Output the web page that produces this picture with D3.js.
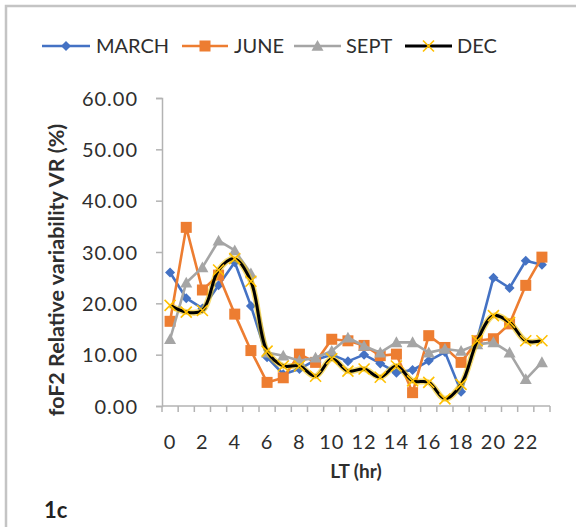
<!DOCTYPE html>
<html>
<head>
<meta charset="utf-8">
<script src="https://cdn.jsdelivr.net/npm/d3@7"></script>
<style>
  html, body { margin: 0; padding: 0; background: #fff; }
  svg { display: block; }
  text { font-family: Lato, "Open Sans", sans-serif; }
</style>
</head>
<body>
<svg id="chart" width="576" height="527"></svg>
<script>
// Local time (hours) and monthly foF2 relative variability (%)
const hours = d3.range(0, 24);
const xTickLabels = [0, 2, 4, 6, 8, 10, 12, 14, 16, 18, 20, 22];
const yTicks = [0, 10, 20, 30, 40, 50, 60];

const march = [26, 21, 19, 23.5, 28, 19.5, 9.5, 6.2, 7.2, 9, 10, 8.7, 10, 8.3, 6.5, 7, 8.8, 10.5, 2.8, 13, 25, 23, 28.3, 27.5];
const june  = [16.5, 34.8, 22.6, 25.5, 17.9, 10.8, 4.6, 5.5, 10.1, 8.5, 13, 12.7, 11.8, 9.8, 10.1, 2.6, 13.7, 11.4, 8.5, 12.7, 13.1, 16, 23.5, 29];
const sept  = [13, 24, 27, 32.2, 30.3, 25.8, 10.4, 9.8, 8.8, 9.4, 10.7, 13.3, 11.7, 10.4, 12.4, 12.4, 10.4, 11.1, 10.7, 12, 12.4, 10.4, 5.2, 8.5];
const dec   = [19.6, 18.3, 18.6, 26.5, 28.7, 24.3, 10.7, 7.8, 7.8, 5.8, 9.2, 6.8, 7.2, 5.6, 7.8, 4.9, 4.6, 1.4, 4.2, 12.7, 17.6, 16.3, 12.7, 12.7];

const seriesNames = ["MARCH", "JUNE", "SEPT", "DEC"];
const seriesColors = ["#4472C4", "#ED7D31", "#A5A5A5", "#000000"];

const series = [
  { name: seriesNames[0], values: march, color: seriesColors[0], marker: "diamond", smooth: false },
  { name: seriesNames[1], values: june,  color: seriesColors[1], marker: "square",  smooth: false },
  { name: seriesNames[2], values: sept,  color: seriesColors[2], marker: "triangle", smooth: false },
  { name: seriesNames[3], values: dec,   color: seriesColors[3], marker: "cross",   smooth: true }
];

const svg = d3.select("#chart");
const axisColor = "#b3b3b3";
const textColor = "#2e2e2e";

// Outer frame
svg.append("path")
  .attr("d", "M6,540 L6,6 L590,6")
  .attr("fill", "none")
  .attr("stroke", "#c4c4c4")
  .attr("stroke-width", 2.5);

const plot = { left: 162, right: 550, top: 98, bottom: 406 };

const x = d3.scaleBand().domain(hours).range([plot.left, plot.right]).padding(0);
const y = d3.scaleLinear().domain([0, 60]).range([plot.bottom, plot.top]);
const cx = h => x(h) + x.bandwidth() / 2;

// Y axis
const yAxis = d3.axisLeft(y).tickValues(yTicks).tickSize(6).tickFormat(d3.format(".2f"));
const gy = svg.append("g").attr("transform", `translate(${plot.left},0)`).call(yAxis);
gy.select(".domain").attr("stroke", axisColor).attr("stroke-width", 1.5);
gy.selectAll(".tick line").attr("stroke", axisColor).attr("stroke-width", 1.5);
gy.selectAll(".tick text")
  .attr("x", -24)
  .attr("dy", "0.36em")
  .attr("fill", textColor)
  .style("font-size", "20px")
  .style("letter-spacing", "1px");

// X axis: tick marks between hour categories, labels every 2 hours
const tickPositions = d3.range(0, 25).map(i => plot.left + i * x.bandwidth());
const gx = svg.append("g");
gx.append("line")
  .attr("x1", plot.left).attr("x2", plot.right)
  .attr("y1", plot.bottom).attr("y2", plot.bottom)
  .attr("stroke", axisColor).attr("stroke-width", 1.5);
gx.selectAll("line.tk").data(tickPositions).join("line")
  .attr("class", "tk")
  .attr("x1", d => d).attr("x2", d => d)
  .attr("y1", plot.bottom).attr("y2", plot.bottom + 6)
  .attr("stroke", axisColor).attr("stroke-width", 1.5);
gx.selectAll("text").data(xTickLabels).join("text")
  .attr("x", d => cx(d))
  .attr("y", 449)
  .attr("text-anchor", "middle")
  .attr("fill", textColor)
  .style("font-size", "20px")
  .style("letter-spacing", "1px")
  .text(d => d);

// Axis titles
svg.append("text")
  .attr("transform", "translate(64,270) rotate(-90)")
  .attr("text-anchor", "middle")
  .attr("fill", textColor)
  .style("font-size", "21.5px")
  .style("font-weight", "700")
  .text("foF2 Relative variability  VR (%)");

svg.append("text")
  .attr("x", 356).attr("y", 478)
  .attr("text-anchor", "middle")
  .attr("fill", textColor)
  .style("font-size", "19px")
  .style("font-weight", "700")
  .text("LT (hr)");

svg.append("text")
  .attr("x", 44).attr("y", 518)
  .attr("fill", "#222")
  .style("font-size", "22px")
  .style("font-weight", "700")
  .text("1c");

// Marker shapes
function drawMarker(g, type, color, px, py, scale) {
  const s = scale || 1;
  if (type === "diamond") {
    const r = 5 * s;
    g.append("path")
      .attr("d", `M${px},${py - r} L${px + r},${py} L${px},${py + r} L${px - r},${py} Z`)
      .attr("fill", color);
  } else if (type === "square") {
    const r = 5.5 * s;
    g.append("rect")
      .attr("x", px - r).attr("y", py - r)
      .attr("width", 2 * r).attr("height", 2 * r)
      .attr("fill", color);
  } else if (type === "triangle") {
    const r = 6 * s;
    g.append("path")
      .attr("d", `M${px},${py - r} L${px + r},${py + r * 0.8} L${px - r},${py + r * 0.8} Z`)
      .attr("fill", color);
  } else if (type === "cross") {
    const r = 5.5 * s;
    g.append("path")
      .attr("d", `M${px - r},${py - r} L${px + r},${py + r} M${px - r},${py + r} L${px + r},${py - r}`)
      .attr("stroke", "#FFC000")
      .attr("stroke-width", 1.6)
      .attr("fill", "none");
  }
}

// Series lines and markers
series.forEach(s => {
  const g = svg.append("g");
  const pts = s.values.map((v, i) => [cx(hours[i]), y(v)]);
  const line = d3.line().curve(s.smooth ? d3.curveCatmullRom.alpha(0.5) : d3.curveLinear);
  if (s.smooth) {
    g.append("path")
      .attr("d", line(pts))
      .attr("fill", "none")
      .attr("stroke", "#F2C200")
      .attr("stroke-opacity", 0.55)
      .attr("stroke-width", 6);
  }
  g.append("path")
    .attr("d", line(pts))
    .attr("fill", "none")
    .attr("stroke", s.color)
    .attr("stroke-width", s.smooth ? 3 : 2.6)
    .attr("stroke-linejoin", "round");
  pts.forEach(p => drawMarker(g, s.marker, s.color, p[0], p[1]));
});

// Legend
const legendItems = [
  { x0: 42, x1: 90, tx: 96 },
  { x0: 182, x1: 228, tx: 234 },
  { x0: 294, x1: 341, tx: 346 },
  { x0: 405, x1: 452, tx: 457 }
];
const ly = 46;
series.forEach((s, i) => {
  const li = legendItems[i];
  const g = svg.append("g");
  g.append("line")
    .attr("x1", li.x0).attr("x2", li.x1)
    .attr("y1", ly).attr("y2", ly)
    .attr("stroke", s.color)
    .attr("stroke-width", s.smooth ? 3 : 2.6);
  drawMarker(g, s.marker, s.color, (li.x0 + li.x1) / 2, ly);
  g.append("text")
    .attr("x", li.tx).attr("y", ly + 7)
    .attr("fill", textColor)
    .style("font-size", "20px")
    .text(s.name);
});
</script>
</body>
</html>
